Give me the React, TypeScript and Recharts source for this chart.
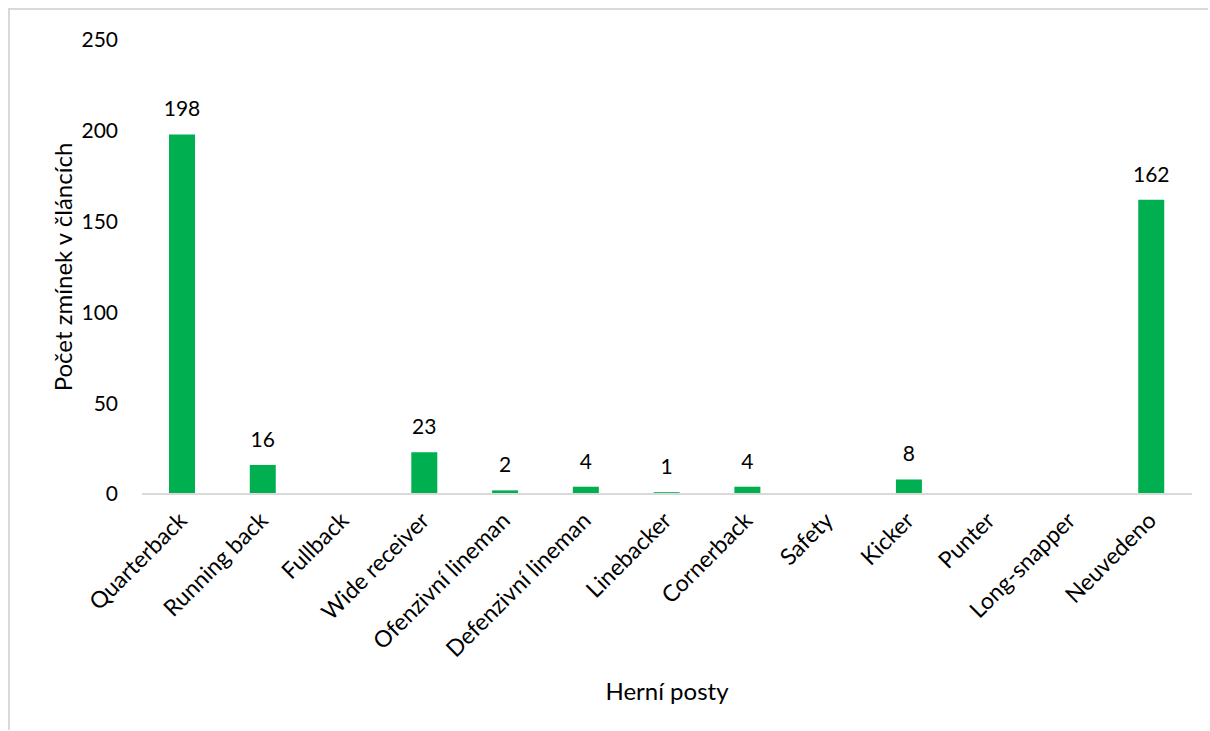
import React from 'react';
import { BarChart, Bar, XAxis, YAxis, LabelList } from 'recharts';

const categories = ['Quarterback', 'Running back', 'Fullback', 'Wide receiver', 'Ofenzivní lineman', 'Defenzivní lineman', 'Linebacker', 'Cornerback', 'Safety', 'Kicker', 'Punter', 'Long-snapper', 'Neuvedeno'];
const counts: (number | null)[] = [198, 16, null, 23, 2, 4, 1, 4, null, 8, null, null, 162];
const yTicks = [0, 50, 100, 150, 200, 250];
const yTitle = 'Počet zmínek v článcích';
const xTitle = 'Herní posty';

const data = categories.map((name, i) => ({ name, value: counts[i] }));

const FONT = 'Lato, "Open Sans", sans-serif';
const NUM_FS = 21;
const CAT_FS = 23;
const TITLE_FS = 24;

const XTick = (props: any) => {
  const { x, y, payload } = props;
  return (
    <g transform={`translate(${x + 6},${y + 28})`}>
      <text transform="rotate(-45)" textAnchor="end" fill="#000" fontFamily={FONT} fontSize={CAT_FS}>
        {payload.value}
      </text>
    </g>
  );
};

export default function App() {
  return (
    <div style={{ position: 'absolute', left: 8, top: 8, width: 1200, height: 722, boxSizing: 'border-box', borderTop: '2px solid #d9d9d9', borderLeft: '2px solid #d9d9d9', background: '#fff' }}>
      <BarChart width={1198} height={720} data={data} margin={{ top: 30, right: 16, left: 0, bottom: 26 }}>
        <XAxis
          dataKey="name"
          interval={0}
          height={210}
          tickLine={false}
          tickSize={0}
          tickMargin={0}
          axisLine={{ stroke: '#d9d9d9', strokeWidth: 2 }}
          tick={<XTick />}
          label={{
            content: (p: any) => {
              const vb = p.viewBox;
              return (
                <text x={vb.x + vb.width / 2} y={680} textAnchor="middle" dominantBaseline="central" fontFamily={FONT} fontSize={TITLE_FS} fill="#000">
                  {xTitle}
                </text>
              );
            },
          }}
        />
        <YAxis
          width={132}
          domain={[0, 250]}
          ticks={yTicks}
          axisLine={false}
          tickLine={false}
          tickSize={0}
          tickMargin={24}
          tick={{ fill: '#000', fontFamily: FONT, fontSize: NUM_FS }}
          label={{
            content: (p: any) => {
              const vb = p.viewBox;
              const cy = vb.y + vb.height / 2;
              return (
                <text x={52} y={cy} transform={`rotate(-90, 52, ${cy})`} textAnchor="middle" dominantBaseline="central" fontFamily={FONT} fontSize={TITLE_FS} fill="#000">
                  {yTitle}
                </text>
              );
            },
          }}
        />
        <Bar dataKey="value" fill="#00B050" barSize={26} isAnimationActive={false}>
          <LabelList dataKey="value" position="top" offset={18} fill="#000" fontFamily={FONT} fontSize={NUM_FS} />
        </Bar>
      </BarChart>
    </div>
  );
}
